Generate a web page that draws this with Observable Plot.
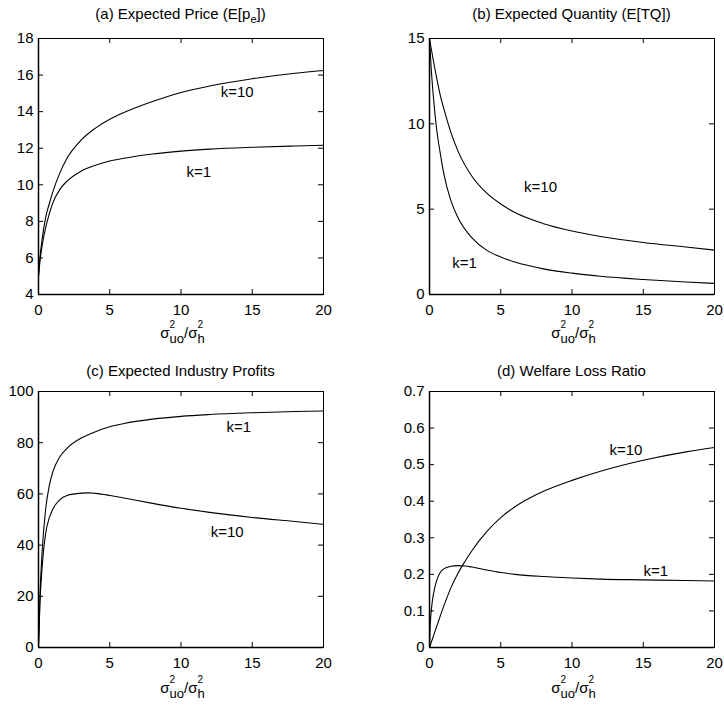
<!DOCTYPE html>
<html>
<head>
<meta charset="utf-8">
<script src="https://cdn.jsdelivr.net/npm/d3@7"></script>
<script src="https://cdn.jsdelivr.net/npm/@observablehq/plot@0.6"></script>
<style>
  html, body { margin: 0; padding: 0; background: white; }
  #wrap { width: 724px; display: flex; flex-wrap: wrap; }
  #wrap svg { display: block; }
</style>
</head>
<body>
<div id="wrap"></div>
<script>
// ---------- data ----------
const xTicks = [0, 5, 10, 15, 20];

// (a) Expected Price
const xA = [0, 0.1, 0.25, 0.5, 0.75, 1, 1.5, 2, 3, 4, 5, 6, 8, 10, 12, 15, 18, 20];
const priceK10 = [5, 6.0, 7.0, 8.2, 8.95, 9.6, 10.65, 11.45, 12.45, 13.1, 13.58, 13.95, 14.55, 15.05, 15.4, 15.8, 16.1, 16.25];
const priceK1  = [5, 5.8, 6.65, 7.65, 8.4, 9.0, 9.75, 10.2, 10.75, 11.07, 11.3, 11.45, 11.68, 11.84, 11.95, 12.05, 12.12, 12.16];
const yTicksA = [4, 6, 8, 10, 12, 14, 16, 18];

// (b) Expected Quantity
const xB = [0, 0.1, 0.25, 0.5, 0.75, 1, 1.5, 2, 3, 4, 5, 6, 8, 10, 12, 15, 18, 20];
const qtyK10 = [15, 14.5, 13.8, 12.7, 11.7, 10.9, 9.5, 8.4, 6.9, 5.95, 5.3, 4.8, 4.15, 3.72, 3.4, 3.05, 2.78, 2.6];
const qtyK1  = [15, 13.5, 11.8, 9.7, 8.3, 7.1, 5.5, 4.5, 3.3, 2.6, 2.2, 1.9, 1.5, 1.25, 1.07, 0.88, 0.73, 0.65];
const yTicksB = [0, 5, 10, 15];

// (c) Expected Industry Profits
const xC = [0, 0.1, 0.25, 0.5, 0.75, 1, 1.5, 2, 3, 3.5, 4, 5, 6, 8, 10, 12, 15, 18, 20];
const profK1  = [0, 20, 37, 54, 63, 68.5, 74.5, 77.8, 81.8, 83.1, 84.3, 86.2, 87.5, 89.2, 90.3, 91, 91.7, 92.2, 92.4];
const profK10 = [0, 17, 31, 44.5, 50.5, 54, 57.8, 59.4, 60.3, 60.4, 60.2, 59.4, 58.4, 56.3, 54.4, 52.8, 50.8, 49.2, 48.1];
const yTicksC = [0, 20, 40, 60, 80, 100];

// (d) Welfare Loss Ratio
const xD1 = [0, 0.05, 0.1, 0.2, 0.35, 0.5, 0.75, 1, 1.5, 2, 2.5, 3, 4, 5, 6, 8, 10, 12, 15, 18, 20];
const wlrK1 = [0, 0.06, 0.09, 0.127, 0.16, 0.183, 0.205, 0.215, 0.222, 0.224, 0.223, 0.22, 0.212, 0.205, 0.2, 0.194, 0.19, 0.187, 0.185, 0.183, 0.182];
const xD10 = [0, 0.5, 1, 1.5, 2, 2.5, 3, 4, 5, 6, 7, 8, 10, 12, 15, 18, 20];
const wlrK10 = [0, 0.057, 0.113, 0.163, 0.203, 0.236, 0.266, 0.316, 0.355, 0.385, 0.408, 0.427, 0.457, 0.482, 0.512, 0.535, 0.547];
const yTicksD = [0, 0.1, 0.2, 0.3, 0.4, 0.5, 0.6, 0.7];

// curve labels
const labelsA = [{x: 13.94, y: 15.07, t: "k=10"}, {x: 11.25, y: 10.7, t: "k=1"}];
const labelsB = [{x: 7.79, y: 6.3, t: "k=10"}, {x: 2.46, y: 1.82, t: "k=1"}];
const labelsC = [{x: 14.06, y: 86, t: "k=1"}, {x: 13.24, y: 45, t: "k=10"}];
const labelsD = [{x: 13.78, y: 0.54, t: "k=10"}, {x: 15.88, y: 0.209, t: "k=1"}];

// ---------- helpers ----------
function rows(xs, ys, k) { return xs.map((x, i) => ({x, y: ys[i], k})); }

const FONT = "'Liberation Sans', Arial, Helvetica, sans-serif";

function panel(cfg) {
  const W = 362, H = 355;
  const pw = W - cfg.ml - cfg.mr, ph = H - cfg.mt - cfg.mb;
  const svg = Plot.plot({
    width: W, height: H,
    marginLeft: cfg.ml, marginRight: cfg.mr, marginTop: cfg.mt, marginBottom: cfg.mb,
    style: {fontFamily: FONT, fontSize: "15px", color: "black", background: "white", overflow: "visible"},
    x: {domain: [0, 20], ticks: xTicks, tickSize: 0, tickPadding: 10, label: null, tickFormat: d => String(d)},
    y: {domain: cfg.yDomain, ticks: cfg.yTicks, tickSize: 0, tickPadding: 5, label: null, tickFormat: d => String(d)},
    marks: [
      Plot.frame({stroke: "black", strokeWidth: 1}),
      Plot.ruleY([cfg.yDomain[0]], {stroke: "black", strokeWidth: 1.5}),
      Plot.ruleX([0], {stroke: "black", strokeWidth: 1.5}),
      Plot.tickX(xTicks, {x: d => d, insetTop: ph - 5, stroke: "black"}),
      Plot.tickX(xTicks, {x: d => d, insetBottom: ph - 5, stroke: "black"}),
      Plot.tickY(cfg.yTicks, {y: d => d, insetRight: pw - 5, stroke: "black"}),
      Plot.tickY(cfg.yTicks, {y: d => d, insetLeft: pw - 5, stroke: "black"}),
      Plot.line(cfg.data, {x: "x", y: "y", z: "k", curve: "monotone-x", stroke: "black", strokeWidth: 1.1}),
      Plot.text(cfg.labels, {x: "x", y: "y", text: "t", fontSize: 15, fill: "black"})
    ]
  });
  const s = d3.select(svg);
  const cx = cfg.ml + pw / 2;
  // title
  const t = s.append("text").attr("x", cx).attr("y", cfg.titleY)
    .attr("text-anchor", "middle").attr("font-family", FONT).attr("font-size", 15).attr("fill", "black");
  cfg.title.forEach(p => {
    const ts = t.append("tspan").text(p.s);
    if (p.sub) ts.attr("font-size", 11).attr("dy", 4);
    if (p.back) ts.attr("dy", -4);
  });
  // x label: sigma^2_uo / sigma^2_h (superscript stacked over subscript)
  const xl = s.append("text").attr("x", cx + 2).attr("y", H - cfg.mb + cfg.xlabDy)
    .attr("text-anchor", "middle").attr("font-family", FONT).attr("font-size", 15).attr("fill", "black");
  const w2 = 5.6;
  xl.append("tspan").text("σ");
  xl.append("tspan").attr("font-size", 10).attr("dy", -10).text("2");
  xl.append("tspan").attr("font-size", 13).attr("dx", -w2).attr("dy", 15).text("uo");
  xl.append("tspan").attr("dy", -5).text("/σ");
  xl.append("tspan").attr("font-size", 10).attr("dy", -10).text("2");
  xl.append("tspan").attr("font-size", 13).attr("dx", -w2).attr("dy", 15).text("h");
  return svg;
}

const wrap = document.getElementById("wrap");

wrap.appendChild(panel({
  ml: 38, mr: 39, mt: 38, mb: 61, titleY: 19, xlabDy: 44,
  yDomain: [4, 18], yTicks: yTicksA,
  data: rows(xA, priceK10, "k=10").concat(rows(xA, priceK1, "k=1")),
  labels: labelsA,
  title: [{s: "(a) Expected Price (E[p"}, {s: "e", sub: true}, {s: "])", back: true}]
}));
wrap.appendChild(panel({
  ml: 67, mr: 10, mt: 38, mb: 61, titleY: 19, xlabDy: 44,
  yDomain: [0, 15], yTicks: yTicksB,
  data: rows(xB, qtyK10, "k=10").concat(rows(xB, qtyK1, "k=1")),
  labels: labelsB,
  title: [{s: "(b) Expected Quantity (E[TQ])"}]
}));
wrap.appendChild(panel({
  ml: 38, mr: 39, mt: 36, mb: 63, titleY: 21, xlabDy: 46,
  yDomain: [0, 100], yTicks: yTicksC,
  data: rows(xC, profK1, "k=1").concat(rows(xC, profK10, "k=10")),
  labels: labelsC,
  title: [{s: "(c) Expected Industry Profits"}]
}));
wrap.appendChild(panel({
  ml: 67, mr: 10, mt: 36, mb: 63, titleY: 21, xlabDy: 46,
  yDomain: [0, 0.7], yTicks: yTicksD,
  data: rows(xD1, wlrK1, "k=1").concat(rows(xD10, wlrK10, "k=10")),
  labels: labelsD,
  title: [{s: "(d) Welfare Loss Ratio"}]
}));
</script>
</body>
</html>
